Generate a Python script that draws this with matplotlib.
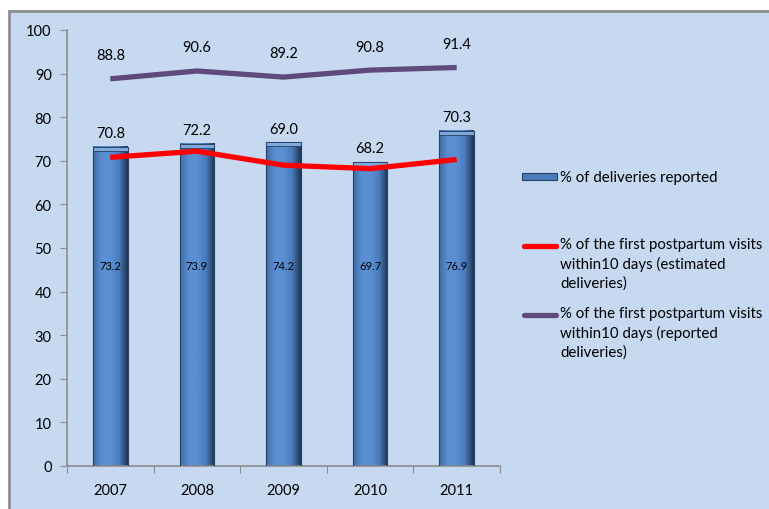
import numpy as np
import matplotlib.pyplot as plt
from matplotlib.colors import LinearSegmentedColormap
from matplotlib.patches import Rectangle
from matplotlib.lines import Line2D

plt.rcParams['font.family'] = ['Lato', 'DejaVu Sans']

years = ['2007', '2008', '2009', '2010', '2011']
reported = [73.2, 73.9, 74.2, 69.7, 76.9]
visits_estimated = [70.8, 72.2, 69.0, 68.2, 70.3]
visits_reported = [88.8, 90.6, 89.2, 90.8, 91.4]

legend_labels = ['% of deliveries reported',
                 '% of the first postpartum visits\nwithin10 days (estimated\ndeliveries)',
                 '% of the first postpartum visits\nwithin10 days (reported\ndeliveries)']

bg = '#C6D9F1'
fig = plt.figure(figsize=(7.69, 5.10), dpi=100)
fig.patch.set_facecolor('white')
# chart frame
fig.patches.append(Rectangle((9 / 769, -0.01), 1.0, (510 - 12) / 510 + 0.01,
                             transform=fig.transFigure, facecolor=bg,
                             edgecolor='#8C8C8C', linewidth=2, zorder=-5))

ax = fig.add_axes([67 / 769, 43 / 510, 433 / 769, 436 / 510])
ax.set_facecolor('none')

x = np.arange(len(years))
width = 0.4
shade = LinearSegmentedColormap.from_list('bar', ['#3F6DA8', '#5A8FD3', '#5A8FD3', '#4A7CBD', '#1E3552'])
grad = np.linspace(0, 1, 64).reshape(1, -1)
for xi, h in zip(x, reported):
    ax.imshow(grad, extent=(xi - width / 2, xi + width / 2, 0, h), aspect='auto',
              cmap=shade, zorder=2, interpolation='bicubic')
    ax.add_patch(Rectangle((xi - width / 2, 0), width, h, facecolor='none',
                           edgecolor='#243F60', linewidth=0.8, zorder=3))
    # lighter top cap
    ax.add_patch(Rectangle((xi - width / 2, h - 0.9), width, 0.9, facecolor='#7FA7DC',
                           edgecolor='#243F60', linewidth=0.6, zorder=3))
    ax.text(xi, 46, f'{h:.1f}', ha='center', va='center', fontsize=8, zorder=5)

ax.plot(x, visits_estimated, color='#FF0000', lw=3.8, zorder=4, solid_capstyle='butt')
ax.plot(x, visits_reported, color='#604A7B', lw=3.8, zorder=4, solid_capstyle='butt')

for xi, h, v in zip(x, reported, visits_estimated):
    ax.annotate(f'{v:.1f}', (xi, h), xytext=(0, 10), textcoords='offset points',
                ha='center', va='center', fontsize=10.5)
for xi, v in zip(x, visits_reported):
    ax.annotate(f'{v:.1f}', (xi, v), xytext=(0, 17), textcoords='offset points',
                ha='center', va='center', fontsize=10.5)

ax.set_xlim(-0.5, len(years) - 0.5)
ax.set_ylim(0, 100)
ax.set_yticks(range(0, 101, 10))
ax.set_xticks(np.arange(-0.5, len(years), 1.0), minor=False)
ax.set_xticklabels([])
ax.set_xticks(x, minor=True)
ax.set_xticklabels(years, minor=True, fontsize=10.5)
ax.tick_params(axis='x', which='minor', length=0, pad=12)
ax.tick_params(axis='x', which='major', length=5, color='#8C8C8C', direction='out')
ax.tick_params(axis='y', length=5, color='#8C8C8C', labelsize=10.5, pad=6)
for s in ['top', 'right']:
    ax.spines[s].set_visible(False)
for s in ['left', 'bottom']:
    ax.spines[s].set_color('#8C8C8C')
    ax.spines[s].set_linewidth(1.2)

# legend, drawn in figure pixels
def fx(px):
    return px / 769

def fy(py):
    return 1 - py / 510

fig.patches.append(Rectangle((fx(522), fy(181)), fx(35), 7 / 510, transform=fig.transFigure,
                             facecolor='#4A7CBD', edgecolor='#243F60', linewidth=0.8))
fig.text(fx(560), fy(178), legend_labels[0], fontsize=10.8, va='center', ha='left')
fig.lines.append(Line2D([fx(524), fx(556)], [fy(247), fy(247)], transform=fig.transFigure,
                        color='#FF0000', lw=3.8, solid_capstyle='round'))
fig.text(fx(560), fy(238), legend_labels[1], fontsize=10.8, va='top', ha='left', linespacing=1.4)
fig.lines.append(Line2D([fx(524), fx(556)], [fy(316), fy(316)], transform=fig.transFigure,
                        color='#604A7B', lw=3.8, solid_capstyle='round'))
fig.text(fx(560), fy(307), legend_labels[2], fontsize=10.8, va='top', ha='left', linespacing=1.4)

fig.savefig('out.png', dpi=100, facecolor=fig.get_facecolor())
